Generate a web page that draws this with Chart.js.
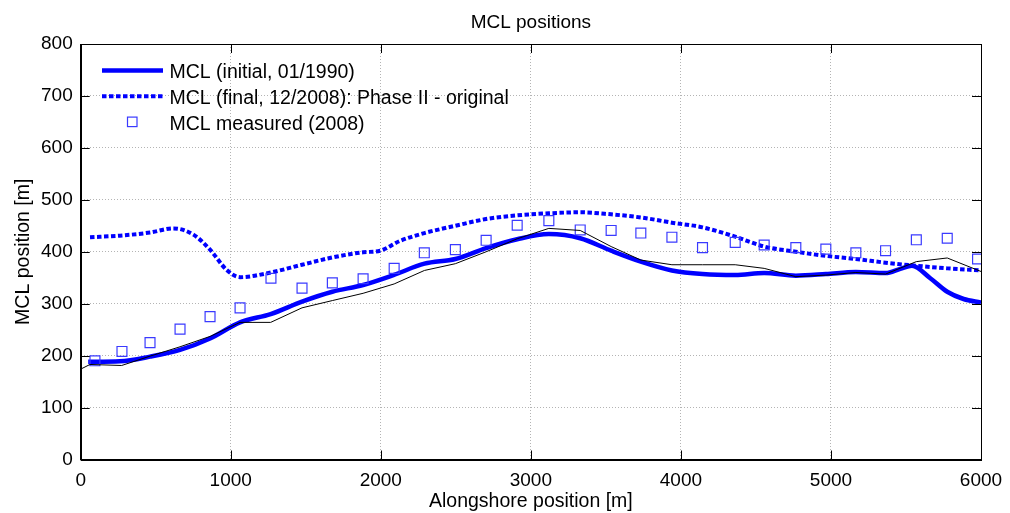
<!DOCTYPE html>
<html>
<head>
<meta charset="utf-8">
<title>MCL positions</title>
<script src="https://cdn.jsdelivr.net/npm/chart.js@4.4.0/dist/chart.umd.min.js"></script>
<style>
  html, body { margin: 0; padding: 0; background: #fff; }
</style>
</head>
<body>
<canvas id="mclChart" width="1010" height="513"></canvas>
<script>
// Alongshore positions [m] and MCL positions [m]
const initialX = [50, 262, 462, 662, 862, 1062, 1266, 1475, 1677, 1882, 2084, 2291, 2497, 2702, 2909, 3120, 3329, 3535, 3733, 3940, 4144, 4362, 4555, 4766, 4966, 5166, 5364, 5462, 5540, 5662, 5775, 5884, 6000];
const initialY = [188, 189, 198, 211, 233, 264, 280, 304, 323, 336, 355, 377, 386, 407, 424, 434, 426, 402, 381, 364, 357, 355, 359, 354, 357, 361, 359, 367, 373, 349, 323, 309, 302];

const finalX = [62, 262, 462, 618, 751, 862, 973, 1062, 1266, 1475, 1677, 1882, 1995, 2129, 2291, 2497, 2702, 2909, 3120, 3329, 3535, 3733, 3940, 4144, 4362, 4555, 4766, 4966, 5166, 5364, 5569, 5775, 6000];
const finalY = [428, 431, 437, 445, 433, 404, 365, 351, 360, 375, 389, 399, 402, 421, 436, 450, 463, 470, 474, 476, 472, 466, 456, 447, 429, 410, 400, 392, 386, 379, 373, 368, 364];

const measuredX = [95, 275, 462, 662, 862, 1062, 1268, 1475, 1677, 1882, 2089, 2290, 2497, 2702, 2909, 3120, 3329, 3535, 3733, 3940, 4144, 4362, 4555, 4766, 4966, 5166, 5364, 5569, 5775, 5977];
const measuredY = [190, 208, 225, 251, 275, 292, 349, 330, 340, 348, 368, 398, 404, 422, 451, 460, 442, 441, 436, 428, 408, 418, 413, 408, 405, 398, 402, 423, 426, 386];

const refX = [0, 62, 273, 462, 662, 862, 1062, 1266, 1475, 1677, 1882, 2089, 2291, 2497, 2702, 2909, 3120, 3329, 3535, 3733, 3940, 4144, 4362, 4555, 4766, 4966, 5166, 5364, 5569, 5775, 6000];
const refY = [174, 183, 181, 199, 217, 237, 264, 264, 292, 306, 320, 338, 364, 377, 400, 425, 445, 441, 410, 384, 375, 375, 375, 368, 352, 355, 360, 357, 381, 388, 362];

const xTicks = [0, 1000, 2000, 3000, 4000, 5000, 6000];
const yTicks = [0, 100, 200, 300, 400, 500, 600, 700, 800];

const FONT = "'Liberation Sans', Arial, Helvetica, sans-serif";
const BLUE = '#0000ff';
const GRID = '#b4b4b4';

const pts = (xs, ys) => xs.map((x, i) => ({ x: x, y: ys[i] }));

// title, legend, inward ticks and the top/right box edges
const axesDecor = {
    id: 'axesDecor',
    afterDatasetsDraw(chart) {
        const ctx = chart.ctx;
        const area = chart.chartArea;
        const xs = chart.scales.x;
        const ys = chart.scales.y;
        ctx.save();

        ctx.strokeStyle = '#000';
        ctx.lineWidth = 1;
        ctx.setLineDash([]);
        ctx.beginPath();
        xTicks.forEach(t => {
            const px = Math.round(xs.getPixelForValue(t)) + 0.5;
            ctx.moveTo(px, area.bottom); ctx.lineTo(px, area.bottom - 9);
            ctx.moveTo(px, area.top); ctx.lineTo(px, area.top + 9);
        });
        yTicks.forEach(t => {
            const py = Math.round(ys.getPixelForValue(t)) + 0.5;
            ctx.moveTo(area.left, py); ctx.lineTo(area.left + 9, py);
            ctx.moveTo(area.right, py); ctx.lineTo(area.right - 9, py);
        });
        ctx.stroke();
        ctx.strokeRect(Math.round(area.left) + 0.5, Math.round(area.top) + 0.5,
            Math.round(area.right - area.left), Math.round(area.bottom - area.top));

        // title
        ctx.fillStyle = '#000';
        ctx.font = '19px ' + FONT;
        ctx.textAlign = 'center';
        ctx.textBaseline = 'alphabetic';
        ctx.fillText('MCL positions', (area.left + area.right) / 2, 28);

        // legend
        const rows = chart.data.datasets
            .filter(d => d.legendRow !== undefined)
            .sort((a, b) => a.legendRow - b.legendRow);
        ctx.font = '19.5px ' + FONT;
        ctx.textAlign = 'left';
        rows.forEach((d, i) => {
            const y = 70.5 + i * 25.8;
            if (d.showLine === false) {
                ctx.strokeStyle = d.pointBorderColor;
                ctx.lineWidth = d.pointBorderWidth;
                ctx.setLineDash([]);
                ctx.strokeRect(127.5, y - 5, 9.5, 9.5);
            } else {
                ctx.strokeStyle = d.borderColor;
                ctx.lineWidth = d.borderWidth;
                ctx.setLineDash(d.borderDash || []);
                ctx.beginPath();
                ctx.moveTo(102, y);
                ctx.lineTo(163, y);
                ctx.stroke();
            }
            ctx.setLineDash([]);
            ctx.fillStyle = '#000';
            ctx.fillText(d.label, 169.5, y + 7.5);
        });
        ctx.restore();
    }
};

new Chart(document.getElementById('mclChart'), {
    type: 'scatter',
    data: {
        datasets: [
            {
                label: 'reference',
                data: pts(refX, refY),
                showLine: true,
                borderColor: '#000',
                borderWidth: 1,
                pointRadius: 0,
                tension: 0
            },
            {
                label: 'MCL measured (2008)',
                legendRow: 2,
                data: pts(measuredX, measuredY),
                showLine: false,
                pointStyle: 'rect',
                pointRadius: 7,
                pointBackgroundColor: 'rgba(0,0,0,0)',
                pointBorderColor: '#3a3aff',
                pointBorderWidth: 1.2
            },
            {
                label: 'MCL (initial, 01/1990)',
                legendRow: 0,
                data: pts(initialX, initialY),
                showLine: true,
                borderColor: BLUE,
                borderWidth: 4.5,
                pointRadius: 0,
                cubicInterpolationMode: 'monotone'
            },
            {
                label: 'MCL (final, 12/2008): Phase II - original',
                legendRow: 1,
                data: pts(finalX, finalY),
                showLine: true,
                borderColor: BLUE,
                borderWidth: 4,
                borderDash: [4.5, 2.5],
                borderCapStyle: 'butt',
                pointRadius: 0,
                cubicInterpolationMode: 'monotone'
            }
        ]
    },
    options: {
        responsive: false,
        animation: false,
        layout: { padding: { left: 0, right: 29, top: 44, bottom: 0 } },
        plugins: {
            legend: { display: false },
            tooltip: { enabled: false }
        },
        scales: {
            x: {
                type: 'linear',
                min: 0,
                max: 6000,
                afterBuildTicks: s => { s.ticks = xTicks.map(v => ({ value: v })); },
                afterFit: s => { s.height = 53.5; s.paddingLeft = 0; s.paddingRight = 0; },
                grid: { color: GRID, drawTicks: false },
                border: { color: '#000', dash: [1, 2] },
                ticks: {
                    color: '#000',
                    font: { family: FONT, size: 19 },
                    padding: 10,
                    maxRotation: 0,
                    callback: v => String(v)
                },
                title: { display: true, text: 'Alongshore position [m]', color: '#000', font: { family: FONT, size: 19.5 }, padding: { top: 0, bottom: 0 } }
            },
            y: {
                type: 'linear',
                min: 0,
                max: 800,
                afterBuildTicks: s => { s.ticks = yTicks.map(v => ({ value: v })); },
                afterFit: s => { s.width = 80.7; s.paddingTop = 0; s.paddingBottom = 0; },
                grid: { color: GRID, drawTicks: false },
                border: { color: '#000', dash: [1, 2] },
                ticks: {
                    color: '#000',
                    font: { family: FONT, size: 19 },
                    padding: 8,
                    callback: v => String(v)
                },
                title: { display: true, text: 'MCL position [m]', color: '#000', font: { family: FONT, size: 19.5 }, padding: { top: 12, bottom: 0 } }
            }
        }
    },
    plugins: [axesDecor]
});
</script>
</body>
</html>
